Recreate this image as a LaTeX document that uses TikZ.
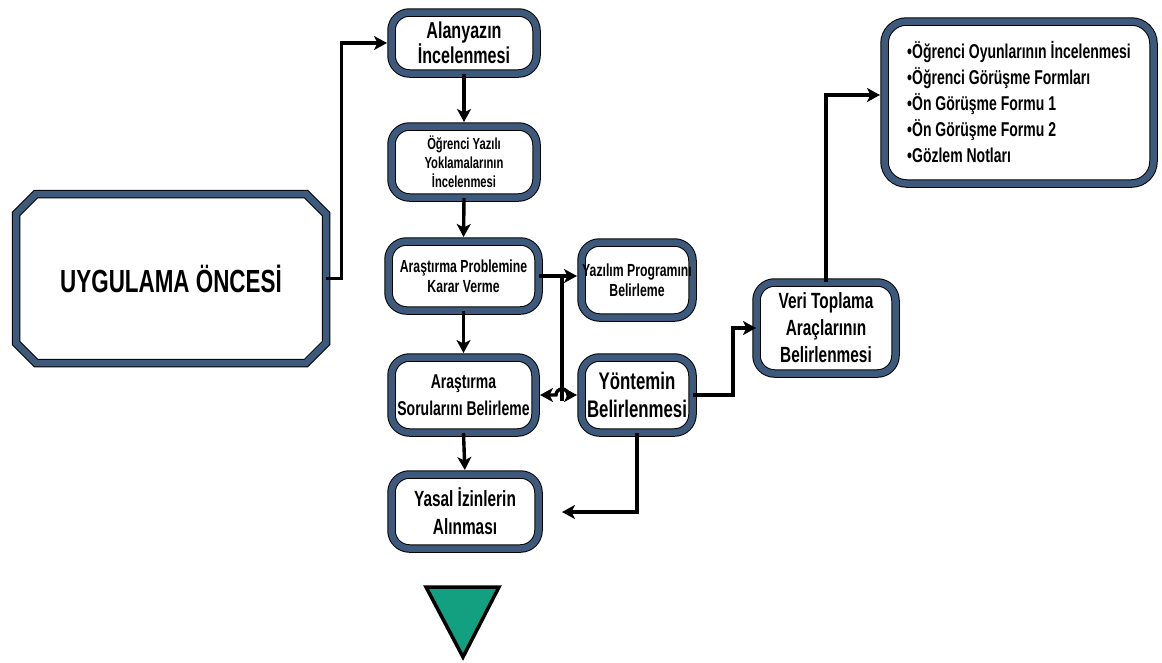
\documentclass[tikz,border=0pt]{standalone}
\usepackage{fontspec}
\setmainfont{Liberation Sans}[FakeStretch=0.7]
\usetikzlibrary{arrows.meta}
\definecolor{boxblue}{HTML}{3D5A7C}
\definecolor{trigreen}{HTML}{12A080}
\tikzset{
  ring/.style={draw=black, line width=1pt, double=boxblue, double distance=6.5pt},
  rbox/.style={ring, rectangle, rounded corners=18pt, fill=white, align=center, inner sep=0pt, font=\bfseries},
  tip/.style={Stealth[length=13pt,width=14pt,inset=3.5pt]},
  arr/.style={line width=3.4pt, -{Stealth[length=13pt,width=14pt,inset=3.5pt]}, shorten >=4pt},
  darr/.style={line width=3.4pt, {Stealth[length=13pt,width=14pt,inset=3.5pt]}-{Stealth[length=13pt,width=14pt,inset=3.5pt]}, shorten >=4pt, shorten <=4pt},
  plain/.style={line width=3.4pt}
}
\newcommand{\fs}[2]{\fontsize{#1}{#2}\selectfont}
\begin{document}
\begin{tikzpicture}[x=1pt,y=-1pt]
\useasboundingbox (0,0) rectangle (1162,662);
% UYGULAMA ONCESI chamfered box
\draw[ring, fill=white] (36,194) -- (306,194) -- (326,214) -- (326,343) -- (306,363) -- (36,363) -- (16,343) -- (16,214) -- cycle;
\node[minimum width=310pt, minimum height=169pt, inner sep=0pt, font=\bfseries\fs{32}{38}] (pre) at (171,278.5) {UYGULAMA ÖNCESİ};
% boxes
\node[rbox, minimum width=145pt, minimum height=61pt, font=\bfseries\fs{23}{25}] (alan) at (464,43) {Alanyazın\\İncelenmesi};
\node[rbox, minimum width=145pt, minimum height=71pt, font=\bfseries\fs{16}{19}] (ogr) at (464,162) {Öğrenci Yazılı\\Yoklamalarının\\İncelenmesi};
\node[rbox, minimum width=150pt, minimum height=69pt, font=\bfseries\fs{17.5}{20}] (arp) at (463.5,276) {Araştırma Problemine\\Karar Verme};
\node[rbox, minimum width=111pt, minimum height=75pt, font=\bfseries\fs{17.5}{20}] (yaz) at (637,280) {Yazılım Programını\\Belirleme};
\node[rbox, minimum width=144pt, minimum height=75pt, font=\bfseries\fs{20}{27}] (ars) at (463.5,395) {Araştırma\\Sorularını Belirleme};
\node[rbox, minimum width=111pt, minimum height=75pt, font=\bfseries\fs{24}{28}] (yon) at (637,395) {Yöntemin\\Belirlenmesi};
\node[rbox, minimum width=147pt, minimum height=74pt, font=\bfseries\fs{22}{28}] (yasal) at (465,511.5) {Yasal İzinlerin\\Alınması};
\node[rbox, minimum width=139pt, minimum height=91pt, font=\bfseries\fs{22}{27}] (veri) at (826,328) {Veri Toplama\\Araçlarının\\Belirlenmesi};
\node[rbox, rounded corners=22pt, minimum width=269pt, minimum height=162pt, align=left, font=\bfseries\fs{20}{26}] (bul) at (1019,102.5) {•Öğrenci Oyunlarının İncelenmesi\\•Öğrenci Görüşme Formları\\•Ön Görüşme Formu 1\\•Ön Görüşme Formu 2\\•Gözlem Notları};
% triangle
\draw[line width=3.5pt, fill=trigreen, line join=miter] (426,587) -- (499,587) -- (463,657) -- cycle;
% connectors
\draw[arr] (pre.east) -- ++(15,0) |- (alan.west);
\draw[arr] (alan.south) -- (ogr.north);
\draw[arr] (ogr.south) -- (arp.north);
\draw[arr] (arp.south) -- (ars.north);
\draw[arr] (ars.south) -- (yasal.north);
\draw[arr] (arp.east) -- (arp.east -| yaz.west);
\coordinate (j) at (562,276);
\coordinate (jb) at (562,401);
\draw[plain] (j) -- (jb);
\draw[darr] (ars.east) -- (556,395) arc (180:360:6) -- (yon.west);
\draw[arr, shorten >=0pt] (yon.east) -- (733,395) |- (veri.west);
\draw[arr] (veri.north) |- ([yshift=7.5pt]bul.west);
\coordinate (yfree) at (562,512);
\draw[arr, shorten >=0pt] (yon.south) |- (yfree);
\end{tikzpicture}
\end{document}
